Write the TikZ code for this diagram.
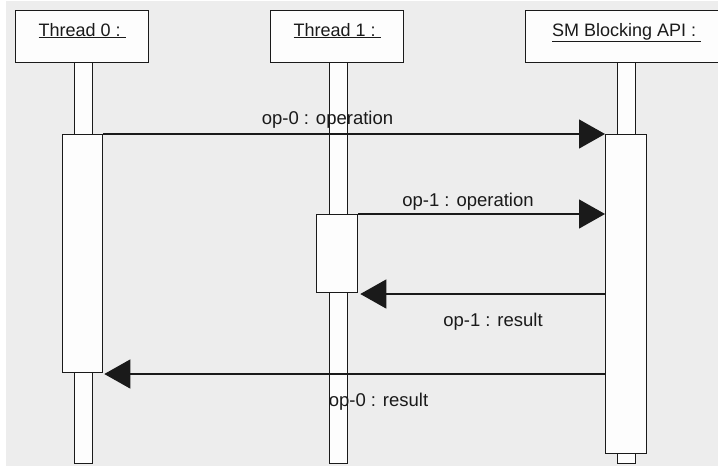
\documentclass[tikz,border=0pt]{standalone}
\usepackage{fontspec}
\setmainfont{Liberation Sans}
\usetikzlibrary{arrows.meta,calc}
\definecolor{bggray}{HTML}{EDEDED}
\definecolor{ink}{HTML}{1A1A1A}
\definecolor{boxfill}{HTML}{FDFDFD}
\tikzset{
  shapebox/.style={draw=ink, fill=boxfill, line width=1.3pt, inner sep=0pt, rectangle, anchor=north west},
  headtext/.style={font=\fontsize{18}{20}\selectfont, text=ink, anchor=base, inner sep=0pt},
  lbl/.style={font=\fontsize{18.5}{20}\selectfont, text=ink, anchor=base, inner sep=0pt},
  msg/.style={draw=ink, line width=1.3pt, -{Triangle[length=26pt,width=29pt]}},
}
\begin{document}
\begin{tikzpicture}[x=1pt,y=-1pt]
\useasboundingbox (0,0) rectangle (718,467);
\fill[white] (0,0) rectangle (718,467);
\fill[bggray] (6,1) rectangle (718,466);
\clip (0,0) rectangle (718,467);

% heads
\node[shapebox, minimum width=133pt, minimum height=52.5pt] (h0) at (15,9.5) {};
\node[shapebox, minimum width=133pt, minimum height=52.5pt] (h1) at (270,9.5) {};
\node[shapebox, minimum width=202pt, minimum height=52.5pt] (h2) at (525,9.5) {};
\node[headtext] (t0) at (h0.center |- 0,36) {\underline{Thread 0 :\ }};
\node[headtext] (t1) at (h1.center |- 0,36) {\underline{Thread 1 :\ }};
\node[headtext] (t2) at (h2.center |- 0,36) {\underline{SM Blocking API :\ }};

% lifelines
\node[shapebox, minimum width=18pt, minimum height=401pt] (l0) at (74,62) {};
\node[shapebox, minimum width=18pt, minimum height=401pt] (l1) at (329,62) {};
\node[shapebox, minimum width=18pt, minimum height=401pt] (l2) at (617,62) {};

% activations
\node[shapebox, minimum width=40pt, minimum height=238pt] (a0) at (62,134) {};
\node[shapebox, minimum width=41pt, minimum height=78pt] (a1) at (316,214) {};
\node[shapebox, minimum width=41pt, minimum height=319pt] (a2) at (605,134) {};

% messages
\draw[msg] (a0.north east) -- (a2.north west);
\draw[msg] (a1.north east) -- (a1.north east -| a2.west);
\coordinate (r1) at (a2.west |- 0,294);
\draw[msg] (r1) -- ($(r1 -| a1.east)+(2,0)$);
\coordinate (r0) at (a2.west |- 0,374);
\draw[msg] (r0) -- ($(r0 -| a0.east)+(1,0)$);

% labels
\node[lbl] (m0) at (327.5,124) {op-0 : operation};
\node[lbl] (m1) at (468,206) {op-1 : operation};
\node[lbl] (m2) at (493,326) {op-1 : result};
\node[lbl] (m3) at (378.5,406) {op-0 : result};
\end{tikzpicture}
\end{document}
